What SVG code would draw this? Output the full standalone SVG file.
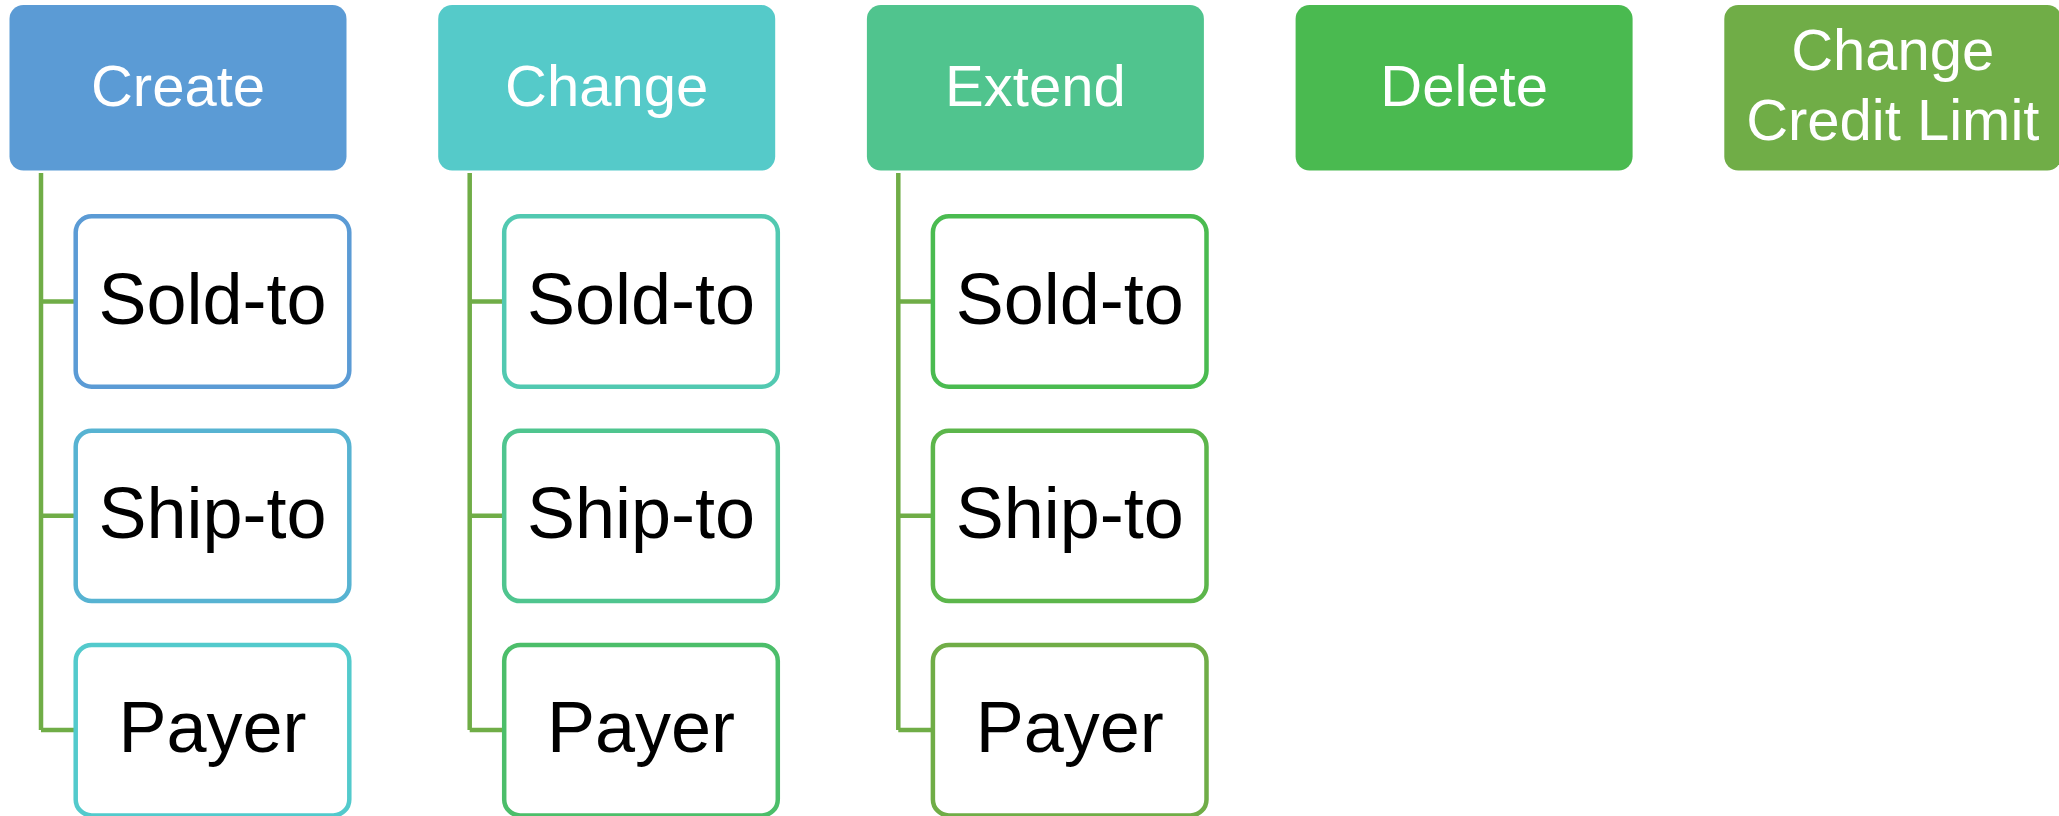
<svg xmlns="http://www.w3.org/2000/svg" width="2059" height="816" viewBox="0 0 2059 816">
<style>
.hdr{stroke:none}
.ht{font-family:"Liberation Sans",Arial,sans-serif;font-size:58px;fill:#fff;text-anchor:middle}
.ch{fill:#fff;stroke-width:4.5}
.ct{font-family:"Liberation Sans",Arial,sans-serif;font-size:72px;fill:#000;text-anchor:middle}
.con{fill:none;stroke:#70AD47;stroke-width:4.5;stroke-linejoin:miter}
</style>
<rect width="2059" height="816" fill="#fff"/>
<g id="connectors">
<path class="con" d="M41 173 V730 M41 301.5 H76 M41 515.8 H76 M41 730 H76"/>
<path class="con" d="M469.7 173 V730 M469.7 301.5 H504 M469.7 515.8 H504 M469.7 730 H504"/>
<path class="con" d="M898.3 173 V730 M898.3 301.5 H933 M898.3 515.8 H933 M898.3 730 H933"/>
</g>
<g id="create"><rect class="hdr" x="9.5" y="5" width="337" height="165.5" rx="14" fill="#5B9BD5"/><text class="ht" x="178" y="106">Create</text></g>
<g id="change"><rect class="hdr" x="438.2" y="5" width="337" height="165.5" rx="14" fill="#55CAC9"/><text class="ht" x="606.7" y="106">Change</text></g>
<g id="extend"><rect class="hdr" x="866.9" y="5" width="337" height="165.5" rx="14" fill="#50C48E"/><text class="ht" x="1035.4" y="106">Extend</text></g>
<g id="delete"><rect class="hdr" x="1295.6" y="5" width="337" height="165.5" rx="14" fill="#4ABA50"/><text class="ht" x="1464.1" y="106">Delete</text></g>
<g id="change-credit-limit"><rect class="hdr" x="1724.3" y="5" width="337" height="165.5" rx="14" fill="#70AD47"/><text class="ht" x="1892.8" y="70">Change</text><text class="ht" x="1892.8" y="140">Credit Limit</text></g>
<g id="create-soldto"><rect class="ch" x="75.7" y="216.3" width="273.6" height="170.4" rx="16" stroke="#5B9BD5"/><text class="ct" x="212.5" y="324">Sold-to</text></g>
<g id="create-shipto"><rect class="ch" x="75.7" y="430.7" width="273.6" height="170.4" rx="16" stroke="#57B3D2"/><text class="ct" x="212.5" y="538.3">Ship-to</text></g>
<g id="create-payer"><rect class="ch" x="75.7" y="645" width="273.6" height="170.4" rx="16" stroke="#53CACC"/><text class="ct" x="212.5" y="752.3">Payer</text></g>
<g id="change-soldto"><rect class="ch" x="504.2" y="216.3" width="273.6" height="170.4" rx="16" stroke="#52C9B1"/><text class="ct" x="641" y="324">Sold-to</text></g>
<g id="change-shipto"><rect class="ch" x="504.2" y="430.7" width="273.6" height="170.4" rx="16" stroke="#4FC58F"/><text class="ct" x="641" y="538.3">Ship-to</text></g>
<g id="change-payer"><rect class="ch" x="504.2" y="645" width="273.6" height="170.4" rx="16" stroke="#4CBE6A"/><text class="ct" x="641" y="752.3">Payer</text></g>
<g id="extend-soldto"><rect class="ch" x="932.9" y="216.3" width="273.6" height="170.4" rx="16" stroke="#4ABB50"/><text class="ct" x="1069.7" y="324">Sold-to</text></g>
<g id="extend-shipto"><rect class="ch" x="932.9" y="430.7" width="273.6" height="170.4" rx="16" stroke="#5CB64B"/><text class="ct" x="1069.7" y="538.3">Ship-to</text></g>
<g id="extend-payer"><rect class="ch" x="932.9" y="645" width="273.6" height="170.4" rx="16" stroke="#70AD47"/><text class="ct" x="1069.7" y="752.3">Payer</text></g>
</svg>
